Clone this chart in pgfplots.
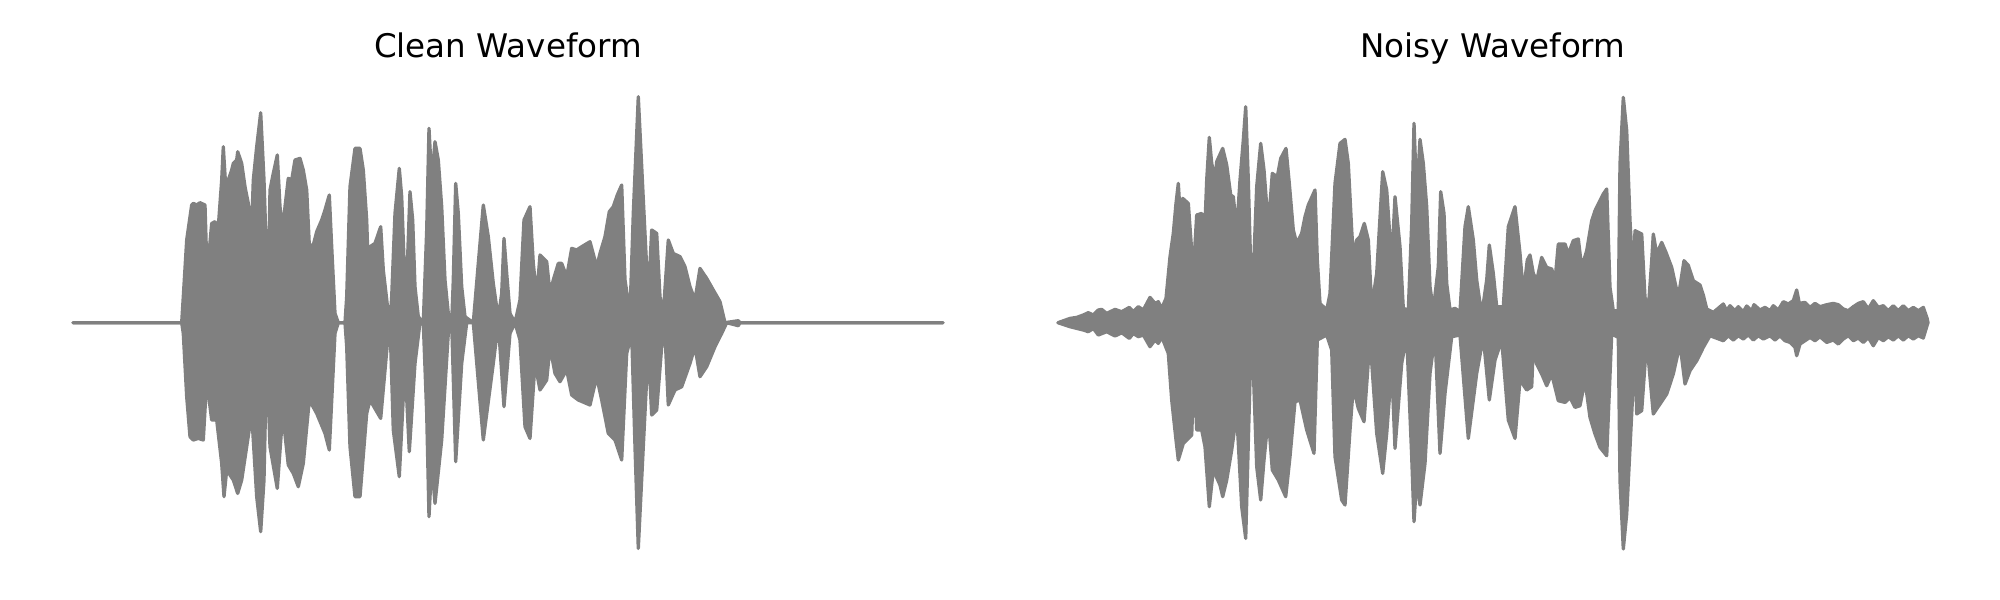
\documentclass[border=0pt]{standalone}
\usepackage{fontspec}
\setmainfont{DejaVu Sans}
\usepackage{pgfplots}
\pgfplotsset{compat=1.18}
\usepgfplotslibrary{fillbetween}
\pgfplotsset{
  every axis title/.style={at={(0.5,1)}, anchor=base, yshift=0.157in, font=\fontsize{23.5}{28}\selectfont},
  wave/.style={hide axis, scale only axis, width=8.7in, height=5in, xmin=0, xmax=870, ymin=-250, ymax=250, clip=false},
  env/.style={color=gray, line width=2.4pt, line join=round, line cap=round},
}
\begin{document}
\begin{tikzpicture}
\path (0,0) rectangle (20in,6in);
% ---------------- Clean waveform ----------------
\begin{axis}[wave, at={(0.73in,0.273in)}, anchor=south west, title={Clean Waveform}]
\addplot[env, name path=cu] coordinates {
(0,0)(108.7,0)(110.3,26)(113.7,82.7)(118.7,117.7)(120.3,119.3)(123.7,117.7)(127,120)(132,117.7)(133.7,61)(135.3,61)
(138.7,99.3)(142,101)(145.3,96)(148.7,142.7)(150.3,176)(152.7,136)(155.3,142.7)(158.7,152.7)(160.3,159.3)(163.7,162.7)
(164.7,171)(168.7,159.3)(172,136)(175.3,119.3)(178.7,96)(180.3,142.7)(183.7,176)(187.7,210)(191,142.7)(193.7,59.3)
(195.3,29.3)(197,132.7)(200.3,149.3)(204.3,167.7)(207,116)(209.7,92.7)(212,116)(215.3,144.3)(218.7,142.7)(222,162.7)
(227,164.3)(230.3,152.7)(233.7,132.7)(236.3,77.7)(240.3,77.7)(243.7,91)(248.7,102.7)(252,112.7)(256.3,127.7)(258.7,76)
(262,9.3)(265.3,0)(272,0)(273.7,26)(277,136)(282,174.3)(287,174.3)(290.3,152.7)(293.7,102.7)(295.3,52.7)(297,76)
(302,79.3)(307.7,96)(310.3,52.7)(315.3,9.3)(317,0)(318.7,26)(322,109.3)(326.3,154.3)(328.7,126)(332,36)(334.3,56)
(337,131)(339.7,102.7)(342,36)(345.3,6)(350.3,0)(353.7,92.7)(356,194.3)(358.7,142.7)(362,181)(365.3,162.7)(368.7,116)
(372,42.7)(375.3,9.3)(378.7,0)(380.3,42.7)(382.7,139.3)(385.3,109.3)(388.7,36)(392,6)(400.3,0)(405.3,59.3)(410.3,117.7)
(415.3,86)(420.3,39.3)(425.3,4.3)(428.7,29.3)(431,84.3)(433.7,49.3)(437,9.3)(442,0)(447,22.7)(451,102.7)(457,116)
(460.3,59.3)(463.7,26)(467,67.7)(473.7,61)(477,29.3)(480.3,42.7)(485.3,59.3)(488.7,59.3)(493.7,46)(498.7,74.3)
(503.7,72.7)(508.7,76)(517,81)(523.7,56)(527,69.3)(532,86)(536.3,111)(540.3,116)(544.3,127.7)(548.7,137.7)(552,42.7)
(557,9.3)(560.3,109.3)(565.3,226)(571,109.3)(575.3,22.7)(578.7,92.7)(583.7,89.3)(587,26)(590.3,9.3)(595.3,82.7)
(600.3,69.3)(607,66)(612,56)(617,36)(622,22.7)(627,54.3)(633.7,44.3)(640.3,32.7)(647,21)(652,0)(665.3,2)(667,0)(870,0)
};
\addplot[env, name path=cl] coordinates {
(0,0)(108.7,0)(110.3,-10.7)(113.7,-74)(117,-114)(120.3,-117.3)(125.3,-115.7)(130.3,-117.3)(133.7,-57.3)(138.7,-97.3)
(143.7,-97.3)(148.7,-140.7)(151,-174)(153.7,-147.3)(160.3,-157.3)(164.7,-170.7)(168.7,-157.3)(173.7,-124)(178.7,-90.7)
(183.7,-174)(187.7,-209)(191,-157.3)(193.7,-30.7)(197,-124)(204.3,-165.7)(209.7,-90.7)(215.3,-142.3)(220.3,-150.7)
(225.3,-164)(230.3,-140.7)(236.3,-77.3)(243.7,-90.7)(252,-110.7)(256.3,-127.3)(262,-10.7)(265.3,0)(272,0)(273.7,-24)
(277,-124)(282,-174)(287,-174)(293.7,-90.7)(297,-77.3)(307.7,-95.7)(315.3,-10.7)(317,0)(320.3,-107.3)(326.3,-154)
(332,-40.7)(336.3,-129)(342,-40.7)(347,0)(350.3,0)(353.7,-90.7)(356,-194)(358.7,-140.7)(362,-180.7)(368.7,-117.3)
(375.3,-10.7)(378.7,0)(382.7,-139)(388.7,-40.7)(393.7,0)(400.3,0)(410.3,-117.3)(420.3,-40.7)(425.3,0)(431,-84)
(437,-10.7)(442,0)(447,-17.3)(452,-104)(457,-115.7)(462,-40.7)(467,-67.3)(473.7,-57.3)(477,-24)(482,-50.7)(487,-59)
(493.7,-47.3)(498.7,-72.3)(505.3,-77.3)(517,-82.3)(523.7,-54)(528.7,-77.3)(535.3,-110.7)(542,-117.3)(548.7,-137.3)
(553.7,-30.7)(558.7,-10.7)(562,-124)(565.3,-225.7)(570.3,-124)(575.3,-24)(578.7,-92.3)(583.7,-87.3)(588.7,-24)
(592,-10.7)(595.3,-82.3)(602,-67.3)(608.7,-64)(617,-40.7)(622,-24)(627,-54)(633.7,-44)(642,-24)(648.7,-10.7)
(653.7,0)(665.3,-3)(667,0)(870,0)
};
\addplot[gray, draw=none] fill between[of=cu and cl];
\end{axis}
% ---------------- Noisy waveform ----------------
\begin{axis}[wave, at={(10.58in,0.273in)}, anchor=south west, title={Noisy Waveform}]
\addplot[env, name path=nu] coordinates {
(0,0)(12,4.3)(18.7,5.3)(25.3,7.7)(30.3,10)(35.3,7.7)(40.3,12.7)(43.7,13.3)(48.7,9.3)(57,13.3)(63.7,11)(71.3,15.3)
(75.3,11)(80.3,16)(85.3,12.7)(92,25.3)(97,19.3)(100.3,21)(103.7,14.3)(108,24.3)(112,66)(115.3,89.3)(118,119.3)
(120.3,139.3)(122,111)(124.7,124.3)(130.3,119.3)(135.3,49.3)(138.7,107.7)(143.7,109.3)(147,99.3)(148.7,142.7)
(151.3,185.3)(153.7,159.3)(157,144.3)(158.7,161)(164.7,174.3)(168.7,157.7)(172.7,127.7)(175.3,126)(178.7,92.7)
(182,142.7)(185.3,182.7)(187.7,216)(190.3,142.7)(192.7,56)(195.3,49.3)(198.7,136)(202.7,179.3)(206,152.7)(210.3,96)
(214.3,149.3)(219.3,146)(222.7,164.3)(228,174.3)(231.3,139.3)(235.3,92.7)(238.7,79.3)(243.7,89.3)(247,106)
(250.3,117.7)(257,132.7)(259.3,62.7)(262,19.3)(268.7,12.7)(272,29.3)(277,139.3)(282,179.3)(287,183.3)(290.3,159.3)
(293.7,92.7)(295.3,66)(298.7,82.7)(302,86)(306.3,99.3)(310.3,82.7)(313.7,16)(318.7,49.3)(324.7,151)(328.7,132.7)
(333.7,59.3)(337,126)(342,76)(345.3,14.3)(350.3,12.7)(353.7,99.3)(356,199.3)(358.7,126)(362,183.3)(365.3,159.3)
(368.7,116)(372,36)(375.3,12.7)(380.3,56)(382.7,131)(386,109.3)(388.7,39.3)(392,12.7)(397,14.3)(402,11)(407,96)
(410.3,116)(415.3,82.7)(418.7,42.7)(423.7,7.7)(428.7,42.7)(431.3,77.7)(435.3,49.3)(438.7,16)(445.3,16)(450.3,96)
(457,116)(462,69.3)(465.3,29.3)(469.3,62.7)(472,67.7)(475.3,49.3)(478.7,42)(483.7,65.3)(488.7,55.3)(493.7,53.7)
(497,42)(500.3,78.7)(507,78.7)(510.3,68.7)(515.3,82)(520.3,83.7)(523.7,55.3)(528.7,72)(533.7,102)(537,112)
(540.3,118.7)(545.3,128.7)(548.7,133.7)(552,35.3)(555.3,12)(560.3,12)(562,158.7)(565.3,225.3)(568.7,192)(572,102)
(575.3,42)(577,92)(583.7,88.7)(587,25.3)(590.3,13.7)(593.7,62)(595.3,88.7)(598.7,68.7)(603.7,80.3)(608,70.3)
(613.7,55.3)(620.3,25.3)(626,62)(630.3,57.3)(635.3,42)(642,37.7)(645.3,27.7)(648.7,13.7)(655.3,10.3)(665.3,18.7)
(668.7,12)(672,17)(677,12)(680.3,16)(685.3,11)(688.7,16.7)(693.7,12)(696,18)(702,12.7)(707,15.3)(712,12)(715.3,17)
(720.3,12.7)(725.3,21)(730.3,18.7)(735.3,22)(738.7,32.7)(741.3,19.3)(747,20.3)(752,15.3)(757,19.3)(762,16)
(768.7,18)(775.3,19.3)(780.3,18)(785.3,13.7)(790.3,12)(795.3,16)(800.3,19.3)(805.3,21)(810.3,13.7)(815.3,22)
(820.3,15.3)(825.3,17)(830.3,12)(835.3,17)(840.3,12)(845.3,17)(850.3,12)(855.3,15.3)(860.3,12)(865.3,15.3)
(869,4.7)(870,0)
};
\addplot[env, name path=nl] coordinates {
(0,0)(12,-4)(25.3,-7.3)(30.3,-9)(35.3,-5.7)(40.3,-12.3)(48.7,-9)(57,-13.3)(63.7,-10)(71.3,-15.7)(75.3,-10.7)
(80.3,-14)(85.3,-12.3)(92,-24)(97,-17.3)(100.3,-20.7)(103.7,-14)(110.3,-30.7)(113.7,-77.3)(118,-117.3)(120.3,-137.3)
(125.3,-120.7)(133.7,-112.3)(136,-47.3)(138.7,-107.3)(143.7,-107.3)(147,-124)(151.3,-184)(155.3,-147.3)(162,-162.3)
(164.7,-174)(168.7,-157.3)(173.7,-127.3)(178.7,-90.7)(183.7,-184)(187.7,-215.7)(192,-57.3)(195.3,-47.3)(198.7,-144)
(202.7,-177.3)(206,-137.3)(210.3,-94)(214.3,-147.3)(220.3,-157.3)(227.7,-174)(232,-134)(237,-79)(242,-77.3)
(248.7,-107.3)(256,-130.7)(259.3,-17.3)(268.7,-12.3)(273.7,-27.3)(277,-134)(283.7,-177.3)(287,-182.3)(292,-107.3)
(295.3,-64)(300.3,-85.7)(306,-99)(312,-15.7)(318.7,-110.7)(324.7,-150.7)(328.7,-110.7)(333.7,-44)(337,-125.7)
(343.7,-40.7)(348.7,-13.3)(353.7,-134)(356,-199)(358.7,-157.3)(362,-182.3)(367,-140.7)(372,-50.7)(377,-12.3)
(382,-130.7)(387,-70.7)(393.7,-14)(402,-12.3)(410.3,-115.7)(418.7,-50.7)(425.3,-14)(431.3,-77.3)(437,-37.3)
(443.7,-17.3)(450.3,-97.3)(457,-115.7)(462,-57.3)(468.7,-67.3)(473.7,-64)(475.3,-24.7)(478.7,-41.3)(483.7,-51.3)
(488.7,-63)(493.7,-51.3)(500.3,-78)(507,-79.7)(512,-74.7)(517,-84.7)(522,-83)(527,-58)(532,-94.7)(537,-111.3)
(542,-124.7)(548.7,-133)(553.7,-11.3)(560.3,-14.7)(562,-158)(565.3,-226.3)(568.7,-191.3)(573.7,-91.3)(577,-24.7)
(578.7,-91.3)(583.7,-88)(588.7,-18)(595.3,-91.3)(602,-81.3)(608.7,-71.3)(615.3,-51.3)(622,-21.3)(627,-61.3)(632,-48)
(638.7,-38)(645.3,-24.7)(652,-13)(665.3,-18)(670.3,-13)(675.3,-17.3)(680.3,-13)(685.3,-16.3)(690.3,-12)(695.3,-17.3)
(700.3,-13)(705.3,-16.3)(712,-13)(717,-17.3)(722,-13)(727,-18)(732,-19.7)(737,-24.7)(738.7,-33)(742,-21.3)(747,-18)
(752,-14.7)(757,-18)(762,-14)(768.7,-19.7)(775.3,-17.3)(780.3,-21.3)(785.3,-16.3)(790.3,-13)(795.3,-18)(800.3,-15.3)
(805.3,-19.7)(810.3,-14.7)(815.3,-23)(820.3,-14.7)(825.3,-18)(830.3,-14)(835.3,-17.3)(840.3,-13)(845.3,-17.3)
(850.3,-13)(855.3,-16.3)(860.3,-13)(865.3,-15.3)(869,-3)(870,0)
};
\addplot[gray, draw=none] fill between[of=nu and nl];
\end{axis}
\end{tikzpicture}
\end{document}
